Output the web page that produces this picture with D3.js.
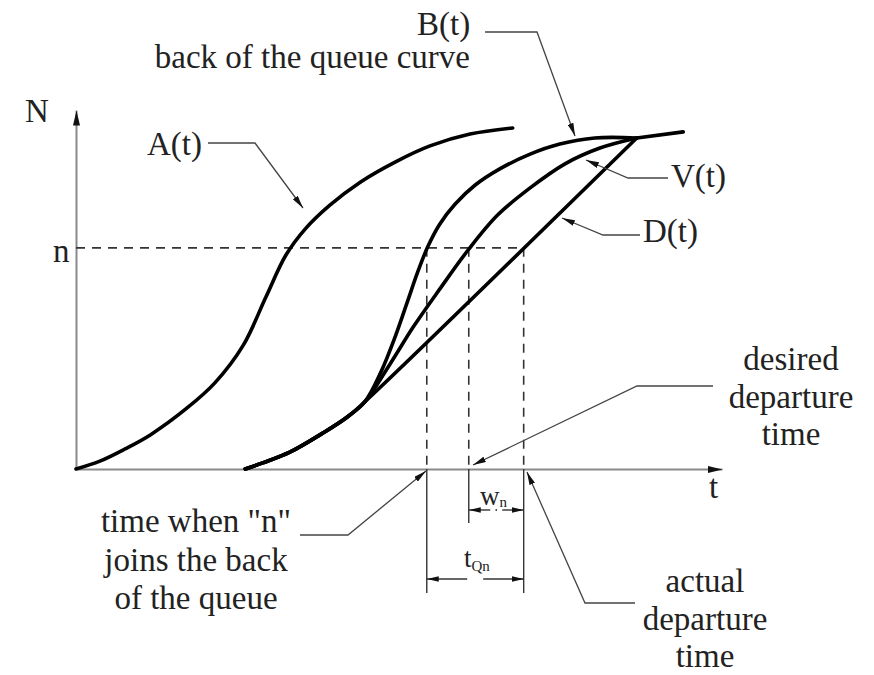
<!DOCTYPE html>
<html>
<head>
<meta charset="utf-8">
<script src="https://cdn.jsdelivr.net/npm/d3@7"></script>
<style>
  html, body { margin: 0; padding: 0; background: #fff; }
  svg { display: block; }
</style>
</head>
<body>
<svg id="chart" width="874" height="675"></svg>
<script>
// ---------- DATA (time t, cumulative count N) ----------
// Arrival curve A(t)
const arrivalT = [0, 0.37, 0.76, 1.15, 1.72, 2.15, 2.59, 2.94, 3.25, 3.56, 3.93, 4.40, 4.94, 5.48, 6.10, 6.76];
const arrivalN = [0, 0.22, 0.56, 0.95, 1.70, 2.40, 3.45, 4.79, 5.96, 6.71, 7.35, 7.99, 8.55, 9.00, 9.33, 9.50];
// Shared start of the departure-side curves (before they separate)
const commonT = [2.62, 2.89, 3.31, 3.82, 4.20, 4.47];
const commonN = [0, 0.17, 0.47, 1.00, 1.45, 1.87];
// Back of the queue curve B(t) after separation
const backT = [4.72, 4.95, 5.14, 5.29, 5.45, 5.63, 5.87, 6.18, 6.56, 7.03, 7.49, 8.03, 8.68];
const backN = [2.70, 3.73, 4.71, 5.49, 6.21, 6.82, 7.38, 7.91, 8.36, 8.77, 9.05, 9.22, 9.22];
// Virtual departure curve V(t) after separation
const virtualT = [4.86, 5.23, 5.63, 6.07, 6.53, 7.03, 7.57, 8.11, 8.68];
const virtualN = [2.92, 3.98, 5.01, 6.10, 7.08, 7.83, 8.50, 8.94, 9.22];
// Departure curve D(t) after separation (straight, at capacity)
const departT = [8.68];
const departN = [9.22];
// Common tail after the curves meet
const tailT = [8.68, 9.40];
const tailN = [9.22, 9.39];
// Marked quantities
const nLevel = 6.16;          // customer "n"
const tJoin = 5.43;           // n joins the back of the queue
const tDesired = 6.08;        // desired departure time
const tActual = 6.93;         // actual departure time
const axisMax = [10, 10];     // t max, N max

// ---------- SETUP ----------
const FONT = "'Liberation Serif', 'Times New Roman', Times, serif";
const svg = d3.select("#chart");
const x = d3.scaleLinear().domain([0, axisMax[0]]).range([76, 722]);
const y = d3.scaleLinear().domain([0, axisMax[1]]).range([469, 110]);
const zip = (a, b) => a.map((v, i) => [v, b[i]]);

const defs = svg.append("defs");
function marker(id, len, half) {
  defs.append("marker").attr("id", id)
    .attr("viewBox", `0 ${-half} ${len} ${2 * half}`)
    .attr("refX", len).attr("refY", 0)
    .attr("markerUnits", "userSpaceOnUse")
    .attr("markerWidth", len).attr("markerHeight", 2 * half)
    .attr("orient", "auto-start-reverse")
    .append("path").attr("d", `M0,${-half}L${len},0L0,${half}Z`).attr("fill", "#111");
}
marker("axisArrow", 15, 3.5);
marker("leadArrow", 13, 3);
marker("dimArrow", 12, 2.8);

// ---------- AXES ----------
const gx = svg.append("g").attr("transform", `translate(0,${y(0)})`)
  .call(d3.axisBottom(x).tickValues([]).tickSizeOuter(0));
const gy = svg.append("g").attr("transform", `translate(${x(0)},0)`)
  .call(d3.axisLeft(y).tickValues([]).tickSizeOuter(0));
[gx, gy].forEach(g => g.select(".domain")
  .attr("stroke", "#8a8a8a").attr("stroke-width", 2).attr("marker-end", "url(#axisArrow)"));

// ---------- DASHED REFERENCE LINES ----------
const dashed = svg.append("g").attr("stroke", "#333").attr("stroke-width", 1.6)
  .attr("stroke-dasharray", "9,7").attr("fill", "none");
dashed.append("line").attr("x1", x(0)).attr("x2", x(tActual)).attr("y1", y(nLevel)).attr("y2", y(nLevel));
[tJoin, tDesired, tActual].forEach(t => {
  dashed.append("line").attr("x1", x(t)).attr("x2", x(t)).attr("y1", y(nLevel)).attr("y2", y(0));
});

// ---------- CURVES ----------
const line = d3.line().x(d => x(d[0])).y(d => y(d[1])).curve(d3.curveCatmullRom.alpha(0.5));
const curves = [
  zip(arrivalT, arrivalN),
  zip(commonT, commonN).concat(zip(backT, backN)),
  zip(commonT, commonN).concat(zip(virtualT, virtualN)),
  zip(commonT, commonN).concat(zip(departT, departN)),
  zip(tailT, tailN)
];
svg.append("g").selectAll("path").data(curves).join("path")
  .attr("d", line).attr("fill", "none").attr("stroke", "#000")
  .attr("stroke-width", 3.6).attr("stroke-linecap", "round").attr("stroke-linejoin", "round");

// ---------- DIMENSIONS BELOW THE AXIS ----------
const dim = svg.append("g").attr("stroke", "#333").attr("stroke-width", 1.4).attr("fill", "none");
const y0 = y(0);
dim.append("line").attr("x1", x(tJoin)).attr("x2", x(tJoin)).attr("y1", y0).attr("y2", y0 + 124);
dim.append("line").attr("x1", x(tDesired)).attr("x2", x(tDesired)).attr("y1", y0).attr("y2", y0 + 54);
dim.append("line").attr("x1", x(tActual)).attr("x2", x(tActual)).attr("y1", y0).attr("y2", y0 + 124);
// w_n
const wY = y0 + 41, wMid = (x(tDesired) + x(tActual)) / 2;
dim.append("line").attr("x1", wMid - 6).attr("x2", x(tDesired)).attr("y1", wY).attr("y2", wY).attr("marker-end", "url(#dimArrow)");
dim.append("line").attr("x1", wMid + 6).attr("x2", x(tActual)).attr("y1", wY).attr("y2", wY).attr("marker-end", "url(#dimArrow)");
dim.append("circle").attr("cx", wMid).attr("cy", wY).attr("r", 0.9).attr("fill", "#333").attr("stroke", "none");
// t_Qn
const qY = y0 + 110, qMid = (x(tJoin) + x(tActual)) / 2;
dim.append("line").attr("x1", qMid - 8).attr("x2", x(tJoin)).attr("y1", qY).attr("y2", qY).attr("marker-end", "url(#dimArrow)");
dim.append("line").attr("x1", qMid + 8).attr("x2", x(tActual)).attr("y1", qY).attr("y2", qY).attr("marker-end", "url(#dimArrow)");

// ---------- LEADER LINES ----------
const leaders = [
  [[208, 143], [255, 143], [303, 208]],   // A(t)
  [[485, 32], [537, 32], [575, 136]],     // B(t)
  [[668, 178], [628, 178], [586, 160]],   // V(t)
  [[640, 235], [603, 235], [562, 218]],   // D(t)
  [[713, 386], [637, 386], [473, 465]],   // desired departure time
  [[635, 603], [585, 603], [527, 472]],   // actual departure time
  [[300, 535], [348, 535], [426, 471]]    // time when n joins
];
svg.append("g").selectAll("path").data(leaders).join("path")
  .attr("d", d3.line()).attr("fill", "none").attr("stroke", "#444").attr("stroke-width", 1.3)
  .attr("marker-end", "url(#leadArrow)");

// ---------- TEXT ----------
const fs = 33;
const txt = svg.append("g").attr("font-size", fs).attr("font-family", FONT).attr("fill", "#222");
function label(s, px, py, anchor) {
  txt.append("text").attr("x", px).attr("y", py).attr("text-anchor", anchor || "start").text(s);
}
label("B(t)", 417, 35);
label("back of the queue curve", 470, 68, "end");
label("N", 25, 122);
label("n", 53, 262);
label("A(t)", 147, 155);
label("V(t)", 671, 187);
label("D(t)", 643, 242);
label("t", 709, 498);
["desired", "departure", "time"].forEach((s, i) => label(s, 791, 370 + i * 37.5, "middle"));
["actual", "departure", "time"].forEach((s, i) => label(s, 705, 592 + i * 37.5, "middle"));
['time when "n"', "joins the back", "of the queue"].forEach((s, i) => label(s, 196, 532 + i * 38.5, "middle"));

const wt = txt.append("text").attr("x", 480).attr("y", 505).attr("font-size", 27);
wt.append("tspan").text("w");
wt.append("tspan").attr("font-size", 15).attr("dy", 2).text("n");
const tq = txt.append("text").attr("x", 464).attr("y", 567).attr("font-size", 27);
tq.append("tspan").text("t");
tq.append("tspan").attr("font-size", 15).attr("dy", 4).text("Qn");
</script>
</body>
</html>
